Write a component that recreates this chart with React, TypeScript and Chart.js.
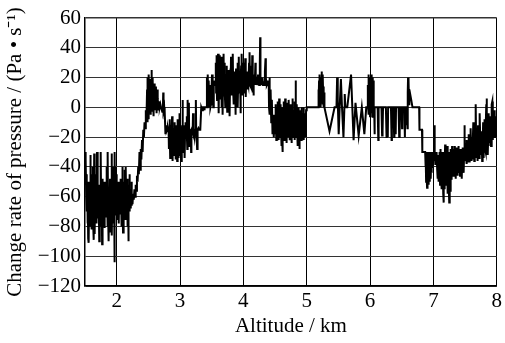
import React, { useEffect, useRef } from "react";
import { Chart, registerables } from "chart.js";

Chart.register(...registerables);

const xTickValues = [2, 3, 4, 5, 6, 7, 8];
const yTickValues = [60, 40, 20, 0, -20, -40, -60, -80, -100, -120];

// [altitude km, change rate Pa/s]
const lowLayer: [number, number][] = [
  [1.5, -40], [1.505, -30], [1.51, -52], [1.515, -35], [1.52, -60], [1.525, -45], [1.53, -70], [1.535, -50], [1.54, -78], [1.545, -55],
  [1.55, -88], [1.555, -62], [1.56, -91], [1.565, -58], [1.57, -80], [1.575, -50], [1.58, -65], [1.585, -32], [1.59, -60], [1.595, -75],
  [1.6, -45], [1.605, -82], [1.61, -55], [1.615, -70], [1.62, -40], [1.625, -65], [1.63, -80], [1.635, -48], [1.64, -89], [1.645, -31],
  [1.65, -60], [1.655, -85], [1.66, -55], [1.665, -70], [1.67, -45], [1.675, -66], [1.68, -58], [1.685, -78], [1.69, -30], [1.695, -68],
  [1.7, -50], [1.705, -62], [1.71, -74], [1.715, -52], [1.72, -66], [1.725, -90], [1.73, -60], [1.735, -75], [1.74, -52], [1.745, -64],
  [1.75, -30], [1.755, -66], [1.76, -80], [1.765, -55], [1.77, -92], [1.775, -62], [1.78, -48], [1.785, -72], [1.79, -58], [1.795, -78],
  [1.8, -50], [1.805, -66], [1.81, -81], [1.815, -70], [1.82, -55], [1.825, -58], [1.83, -74], [1.835, -50], [1.84, -68], [1.845, -40],
  [1.85, -62], [1.855, -80], [1.86, -30], [1.865, -72], [1.87, -60], [1.875, -90], [1.88, -65], [1.885, -55], [1.89, -75], [1.895, -48],
  [1.9, -66], [1.905, -84], [1.91, -58], [1.915, -70], [1.92, -31], [1.925, -86], [1.93, -62], [1.935, -75], [1.94, -70], [1.945, -55],
  [1.95, -78], [1.955, -40], [1.96, -64], [1.965, -104], [1.97, -30], [1.975, -72], [1.98, -58], [1.985, -40], [1.99, -68], [1.995, -55],
  [2.0, -45], [2.005, -62], [2.01, -75], [2.015, -55], [2.02, -68], [2.025, -50], [2.03, -60], [2.035, -78], [2.04, -58], [2.045, -70],
  [2.05, -52], [2.055, -64], [2.06, -48], [2.065, -72], [2.07, -60], [2.075, -80], [2.08, -58], [2.085, -66], [2.09, -40], [2.095, -62],
  [2.1, -84], [2.105, -60], [2.11, -70], [2.115, -50], [2.12, -66], [2.125, -42], [2.13, -60], [2.135, -75], [2.14, -55], [2.145, -40],
  [2.15, -65], [2.155, -58], [2.16, -72], [2.165, -48], [2.17, -62], [2.175, -80], [2.18, -60], [2.185, -90], [2.19, -62], [2.195, -52],
  [2.2, -70], [2.205, -45], [2.21, -62], [2.215, -55], [2.22, -68], [2.225, -58], [2.23, -62], [2.235, -50], [2.24, -66], [2.245, -60],
  [2.25, -65], [2.26, -58], [2.27, -62], [2.28, -55], [2.29, -60], [2.3, -52], [2.31, -56], [2.32, -46], [2.33, -50], [2.34, -40],
  [2.35, -45], [2.36, -30], [2.37, -42], [2.38, -28], [2.39, -35], [2.4, -22], [2.41, -30], [2.42, -15], [2.43, -20], [2.44, -10],
  [2.45, -14], [2.46, -2], [2.47, -8],
];

const firstRise: [number, number][] = [
  [2.48, 12], [2.485, -10], [2.49, 20], [2.495, 2], [2.5, 14], [2.505, -8], [2.51, 22], [2.515, 5], [2.52, 16], [2.525, 0],
  [2.53, 10], [2.535, -5], [2.54, 19], [2.545, 3], [2.55, 25], [2.555, 8], [2.56, 14], [2.565, -3], [2.57, 20], [2.575, 4],
  [2.58, 12], [2.585, -6], [2.59, 16], [2.595, 2], [2.6, 10], [2.605, -2], [2.61, 14], [2.62, 0], [2.625, 8], [2.63, -4],
  [2.64, 12], [2.645, 0], [2.65, 6], [2.66, -2], [2.67, 4], [2.68, 0], [2.69, 2], [2.7, 0], [2.71, 0], [2.72, -3],
  [2.73, 0], [2.735, 10], [2.74, -2], [2.75, 0], [2.755, -8], [2.76, -2], [2.77, -18], [2.78, -12], [2.79, -16],
];

const dipLayer: [number, number][] = [
  [2.8, -15], [2.81, -14], [2.82, -16], [2.825, -28], [2.83, -15], [2.835, -8], [2.84, -18], [2.845, -34], [2.85, -16], [2.855, -22],
  [2.86, -12], [2.865, -30], [2.87, -15], [2.875, -6], [2.88, -20], [2.885, -36], [2.89, -18], [2.895, -26], [2.9, -14], [2.905, -32],
  [2.91, -20], [2.915, -10], [2.92, -28], [2.925, -16], [2.93, -35], [2.935, -20], [2.94, -12], [2.945, -30], [2.95, -18], [2.955, -36],
  [2.96, -22], [2.965, -8], [2.97, -30], [2.975, -20], [2.98, -34], [2.985, -16], [2.99, -4], [2.995, -25], [3.0, -32], [3.005, -18],
  [3.01, -28], [3.015, -12], [3.02, -36], [3.025, -20], [3.03, -30], [3.035, -15], [3.04, 5], [3.045, -20], [3.05, -30], [3.055, -16],
  [3.06, -24], [3.065, -12], [3.07, -18], [3.075, -34], [3.08, -16], [3.085, -10], [3.09, -15], [3.1, -20], [3.105, -6], [3.11, -18],
  [3.115, -28], [3.12, 5], [3.13, -16], [3.14, 3], [3.145, -26], [3.15, -15], [3.16, -16], [3.17, -15], [3.175, -30], [3.18, -15],
  [3.19, -14], [3.2, -16], [3.205, -4], [3.21, -15], [3.22, -15], [3.23, -20], [3.24, -15], [3.25, 5], [3.255, -15], [3.26, -16],
  [3.27, -28], [3.275, -15], [3.28, -15], [3.29, -14], [3.3, -15], [3.31, -15], [3.32, -15], [3.33, -15],
];

const zeroStep: [number, number][] = [
  [3.335, 0], [3.34, 0], [3.35, -2], [3.36, 0], [3.37, 0], [3.38, 0], [3.385, -2], [3.39, 0], [3.4, 0], [3.41, 0],
  [3.42, 0], [3.425, 20], [3.43, 0], [3.435, 10], [3.44, 22], [3.445, 2], [3.45, 0], [3.455, 18], [3.46, 4], [3.47, 0],
  [3.475, 15], [3.48, 0], [3.49, 2], [3.5, 15], [3.505, 22], [3.51, 12], [3.52, 15], [3.525, 0], [3.53, 15], [3.535, 18],
  [3.54, 15], [3.55, 15],
];

const upperLayer: [number, number][] = [
  [3.56, 15], [3.565, 30], [3.57, 10], [3.575, 35], [3.58, 15], [3.585, 5], [3.59, 28], [3.595, 14], [3.6, 36], [3.605, 8],
  [3.61, 20], [3.615, -4], [3.62, 32], [3.625, 15], [3.63, 35], [3.635, 6], [3.64, 22], [3.645, 12], [3.65, 34], [3.655, 0],
  [3.66, 18], [3.665, 28], [3.67, 10], [3.675, -5], [3.68, 25], [3.685, 15], [3.69, 36], [3.695, 8], [3.7, 18], [3.705, 30],
  [3.71, 12], [3.715, 0], [3.72, 22], [3.725, 15], [3.73, 8], [3.735, 28], [3.74, 15], [3.745, -3], [3.75, 18], [3.755, 10],
  [3.76, 25], [3.765, 15], [3.77, 5], [3.775, 20], [3.78, 15], [3.785, -6], [3.79, 16], [3.795, 26], [3.8, 12], [3.805, 34],
  [3.81, 15], [3.815, 8], [3.82, 30], [3.825, 15], [3.83, 20], [3.835, 36], [3.84, 10], [3.845, 18], [3.85, 2], [3.855, 24],
  [3.86, 15], [3.865, 8], [3.87, 20], [3.875, -5], [3.88, 15], [3.885, 26], [3.89, 12], [3.895, 18], [3.9, 6], [3.905, 30],
  [3.91, 15], [3.915, 0], [3.92, 20], [3.925, 15], [3.93, 34], [3.935, 10], [3.94, 16], [3.945, 22], [3.95, 15], [3.955, -4],
  [3.96, 18], [3.965, 28], [3.97, 12], [3.975, 36], [3.98, 15], [3.985, 20], [3.99, 8], [3.995, 30],
  [4.0, 15], [4.01, 25], [4.015, 10], [4.02, 18], [4.03, 33], [4.035, 15], [4.04, 7], [4.045, 20], [4.05, 15], [4.06, 24],
  [4.065, 12], [4.07, 18], [4.08, 15], [4.09, 30], [4.095, 16], [4.1, 37], [4.105, 15], [4.11, 20], [4.12, 14], [4.13, 28],
  [4.135, 15], [4.14, 35], [4.145, 18], [4.15, 10], [4.155, 20], [4.16, 8], [4.165, 15], [4.17, 22], [4.18, 15], [4.19, 30],
  [4.195, 16], [4.2, 20], [4.21, 15], [4.22, 18], [4.23, 15], [4.24, 22], [4.25, 15], [4.26, 30], [4.265, 47], [4.27, 15],
  [4.28, 18], [4.29, 15], [4.3, 20], [4.31, 15], [4.32, 16], [4.33, 15], [4.34, 24], [4.35, 33], [4.355, 15], [4.36, 18],
  [4.37, 15], [4.38, 16], [4.39, 15], [4.4, 18], [4.405, 0], [4.41, 20], [4.415, 15], [4.42, -5], [4.43, 12], [4.44, -10],
  [4.45, 5], [4.46, -18], [4.47, -5], [4.48, -20], [4.49, -8],
];

const noisyBand: [number, number][] = [
  [4.5, -12], [4.505, 2], [4.51, -18], [4.515, -5], [4.52, -22], [4.525, 0], [4.53, -10], [4.535, -20], [4.54, 4], [4.545, -8],
  [4.55, -16], [4.555, -2], [4.56, -22], [4.565, 6], [4.57, -12], [4.575, -4], [4.58, -20], [4.585, -8], [4.59, 2], [4.595, -16],
  [4.6, -26], [4.605, -6], [4.61, -18], [4.615, 0], [4.62, -30], [4.625, -10], [4.63, -16], [4.635, 4], [4.64, -8], [4.645, -22],
  [4.65, -4], [4.655, -14], [4.66, 6], [4.665, -10], [4.67, -20], [4.675, 0], [4.68, -12], [4.685, -24], [4.69, -6], [4.695, 3],
  [4.7, -15], [4.705, -2], [4.71, -20], [4.715, -8], [4.72, 5], [4.725, -14], [4.73, -22], [4.735, -4], [4.74, -12], [4.745, 2],
  [4.75, -18], [4.755, -8], [4.76, -24], [4.765, -2], [4.77, -14], [4.775, 6], [4.78, -10], [4.785, -20], [4.79, -5], [4.795, -16],
  [4.8, -2], [4.805, -22], [4.81, -8], [4.815, 4], [4.82, -12], [4.825, 18], [4.83, -6], [4.835, -20], [4.84, -10], [4.845, 2],
  [4.85, -16], [4.855, -26], [4.86, -6], [4.865, -14], [4.87, 0], [4.875, -20], [4.88, -8], [4.885, -28], [4.89, -12], [4.895, -2],
  [4.9, -18], [4.905, -6], [4.91, -22], [4.915, 0], [4.92, -10], [4.925, -18], [4.93, -4], [4.935, -20], [4.94, -8], [4.945, -14],
  [4.95, 0], [4.955, -22], [4.96, -6], [4.965, -12], [4.97, -18], [4.975, -4], [4.98, -10], [4.985, -20], [4.99, -2], [5.0, 0],
];

const flatSection: [number, number][] = [
  [5.18, 0], [5.185, 12], [5.19, 2], [5.195, 18], [5.2, 4], [5.205, 22], [5.21, 8], [5.215, 15], [5.22, 0], [5.225, 20],
  [5.23, 6], [5.235, 24], [5.24, 10], [5.245, 18], [5.25, 2], [5.255, 22], [5.26, 8], [5.265, 14], [5.27, 0], [5.275, 10],
  [5.28, 0], [5.36, -16], [5.44, 0], [5.47, 0], [5.48, 20], [5.49, 4], [5.505, -18], [5.52, 0], [5.54, 19], [5.555, 2],
  [5.58, -20], [5.595, 0], [5.6, 9], [5.61, 0], [5.64, 0], [5.7, 22], [5.74, -22], [5.77, 3], [5.82, -19], [5.87, 0],
  [5.91, -18], [5.94, 0], [5.96, 0], [5.965, 15], [5.97, 0], [5.975, 22], [5.98, -5], [5.985, 18], [5.99, 2], [5.995, 20],
  [6.0, -6], [6.005, 16], [6.01, 0], [6.015, 22], [6.02, -4], [6.025, 18], [6.03, 6], [6.035, 20], [6.04, -7], [6.045, 14],
  [6.05, 2], [6.055, 18], [6.06, 0], [6.065, 0], [6.07, -18], [6.075, 0], [6.12, 0], [6.13, -22], [6.135, 0], [6.18, 0],
  [6.19, -19], [6.195, -2], [6.2, -16], [6.205, 0], [6.25, 0], [6.26, -20], [6.265, -4], [6.27, -12], [6.28, -20], [6.285, 0],
  [6.33, 0], [6.34, -22], [6.345, 0], [6.37, 0], [6.38, -20], [6.385, 0], [6.4, 0], [6.405, -18], [6.41, 0], [6.45, 0],
  [6.46, -20], [6.465, -5], [6.47, -17], [6.475, 0], [6.5, 0], [6.505, -14], [6.51, 0], [6.54, 0], [6.55, -20], [6.555, 0],
  [6.57, 0], [6.575, -12], [6.58, 0], [6.59, -14], [6.595, 10], [6.6, 20], [6.605, 12], [6.61, 18], [6.615, 2], [6.62, 12],
  [6.65, 5], [6.67, 0], [6.775, 0],
];

const lowerStep: [number, number][] = [
  [6.78, -15], [6.82, -15], [6.825, -30], [6.87, -30], [6.875, -40], [6.88, -32], [6.885, -50], [6.89, -30], [6.895, -45], [6.9, -54],
  [6.905, -35], [6.91, -48], [6.915, -30], [6.92, -52], [6.925, -38], [6.93, -46], [6.935, -30], [6.94, -50], [6.945, -34], [6.95, -42],
  [6.955, -30], [6.96, -48], [6.965, -35], [6.97, -44], [6.975, -32], [6.98, -40], [6.985, -30], [6.99, -38], [6.995, -32], [7.0, -36],
  [7.005, -30], [7.01, -35], [7.015, -28], [7.02, -12], [7.025, -30], [7.03, -38], [7.035, -32], [7.04, -36], [7.05, -30], [7.06, -42],
  [7.065, -35], [7.07, -48], [7.075, -32], [7.08, -40], [7.085, -50], [7.09, -36], [7.095, -44], [7.1, -30], [7.105, -52], [7.11, -38],
  [7.115, -28], [7.12, -46], [7.125, -34], [7.13, -55], [7.135, -40], [7.14, -30], [7.145, -50], [7.15, -36], [7.155, -58], [7.16, -64],
  [7.165, -45], [7.17, -30], [7.175, -55], [7.18, -40], [7.185, -25], [7.19, -48], [7.195, -36], [7.2, -52], [7.205, -30], [7.21, -44],
  [7.215, -26], [7.22, -50], [7.225, -38], [7.23, -58], [7.235, -42], [7.24, -30], [7.245, -54], [7.25, -64], [7.255, -46], [7.26, -34],
  [7.265, -56], [7.27, -40], [7.275, -28], [7.28, -48], [7.285, -35], [7.29, -44], [7.295, -26], [7.3, -40], [7.305, -32], [7.31, -46],
  [7.315, -28], [7.32, -38], [7.325, -30], [7.33, -44], [7.335, -34], [7.34, -26], [7.345, -40], [7.35, -48], [7.355, -32], [7.36, -38],
  [7.365, -27], [7.37, -42], [7.375, -34], [7.38, -46], [7.385, -30], [7.39, -36], [7.395, -26], [7.4, -44], [7.405, -32], [7.41, -38],
  [7.415, -28], [7.42, -46], [7.425, -34], [7.43, -30], [7.435, -42], [7.44, -28], [7.445, -36], [7.45, -48], [7.455, -32], [7.46, -40],
  [7.465, -27], [7.47, -38], [7.475, -32], [7.48, -44], [7.485, -30], [7.49, -12], [7.495, -32],
];

const recovery: [number, number][] = [
  [7.5, -28], [7.505, -36], [7.51, -24], [7.515, -34], [7.52, -28], [7.525, -38], [7.53, -22], [7.535, -32], [7.54, -26], [7.545, -37],
  [7.55, -24], [7.555, -30], [7.56, -18], [7.565, -34], [7.57, -26], [7.575, -37], [7.58, -22], [7.585, -30], [7.59, -14], [7.595, -28],
  [7.6, -36], [7.605, -24], [7.61, -30], [7.615, -20], [7.62, -35], [7.625, -26], [7.63, -10], [7.635, -30], [7.64, -24], [7.645, -36],
  [7.65, -20], [7.655, -30], [7.66, -26], [7.665, -8], [7.67, 2], [7.675, -24], [7.68, -34], [7.685, -20], [7.69, -28], [7.695, -36],
  [7.7, -22], [7.705, -12], [7.71, -30], [7.715, -24], [7.72, -34], [7.725, -18], [7.73, -28], [7.735, -4], [7.74, -22], [7.745, -32],
  [7.75, -26], [7.755, -16], [7.76, -30], [7.765, -22], [7.77, -36], [7.775, -20], [7.78, -28], [7.785, -10], [7.79, -26], [7.795, -34],
  [7.8, -18], [7.805, -24], [7.81, -8], [7.815, -28], [7.82, -20], [7.825, -30], [7.83, -14], [7.835, 2], [7.84, 6], [7.845, -22],
  [7.85, -28], [7.855, -16], [7.86, -32], [7.865, -20], [7.87, -4], [7.875, -26], [7.88, -14], [7.885, -24], [7.89, -18], [7.895, -6],
  [7.9, -22], [7.905, -14], [7.91, -26], [7.915, -10], [7.92, -20], [7.925, 2], [7.93, 4], [7.935, -16], [7.94, -22], [7.945, -8],
  [7.95, -18], [7.955, -12], [7.96, -20], [7.965, -2], [7.97, -16], [7.975, -20], [7.98, -10], [7.985, -18], [7.99, -6], [7.995, -14],
  [8.0, -10],
];

const segments = [lowLayer, firstRise, dipLayer, zeroStep, upperLayer, noisyBand, flatSection, lowerStep, recovery];

const FONT = "'Liberation Serif', 'Times New Roman', Times, serif";

export default function App() {
  const ref = useRef<HTMLCanvasElement | null>(null);

  useEffect(() => {
    document.body.style.margin = "0";
    const canvas = ref.current;
    if (!canvas) return;
    const points = segments.flat().map(([x, y]) => ({ x, y }));
    const chart = new Chart(canvas, {
      type: "line",
      data: {
        datasets: [
          {
            data: points,
            borderColor: "#000",
            borderWidth: 2,
            pointRadius: 0,
            tension: 0,
            fill: false,
          },
        ],
      },
      options: {
        responsive: false,
        animation: false,
        parsing: false as any,
        layout: { padding: { top: 18, right: 4, left: 0, bottom: 0 } },
        plugins: { legend: { display: false }, tooltip: { enabled: false } },
        scales: {
          x: {
            type: "linear",
            min: 1.5,
            max: 8,
            afterBuildTicks: (s: any) => {
              s.ticks = xTickValues.map((v) => ({ value: v }));
            },
            afterFit: (s: any) => {
              s.height = 57;
            },
            grid: { color: "#000", lineWidth: 1, drawTicks: false },
            border: { color: "#000", width: 1.5 },
            ticks: {
              color: "#000",
              font: { family: FONT, size: 21 },
              padding: 3,
              autoSkip: false,
              maxRotation: 0,
              callback: (v: any) => String(v),
            },
            title: {
              display: true,
              text: "Altitude / km",
              color: "#000",
              font: { family: FONT, size: 21 },
              padding: { top: 0, bottom: 4 },
            },
          },
          y: {
            type: "linear",
            min: -120,
            max: 60,
            afterBuildTicks: (s: any) => {
              s.ticks = yTickValues.map((v) => ({ value: v }));
            },
            afterFit: (s: any) => {
              s.width = 85;
            },
            grid: {
              color: "#333",
              lineWidth: (c: any) => (c.tick && c.tick.value === 60 ? 1.5 : 1),
              drawTicks: false,
            },
            border: { color: "#000", width: 1.5 },
            ticks: {
              color: "#000",
              font: { family: FONT, size: 21 },
              padding: 4,
              callback: (v: any) => (Number(v) < 0 ? `\u2212${Math.abs(Number(v))}` : String(v)),
            },
            title: {
              display: true,
              text: "Change rate of pressure / (Pa \u2022 s\u207B\u00B9)",
              color: "#000",
              font: { family: FONT, size: 21 },
              padding: { top: 3, bottom: 0 },
            },
          },
        },
      },
    });
    return () => chart.destroy();
  }, []);

  return (
    <canvas
      ref={ref}
      width={505}
      height={343}
      style={{ display: "block", width: 505, height: 343 }}
    />
  );
}
